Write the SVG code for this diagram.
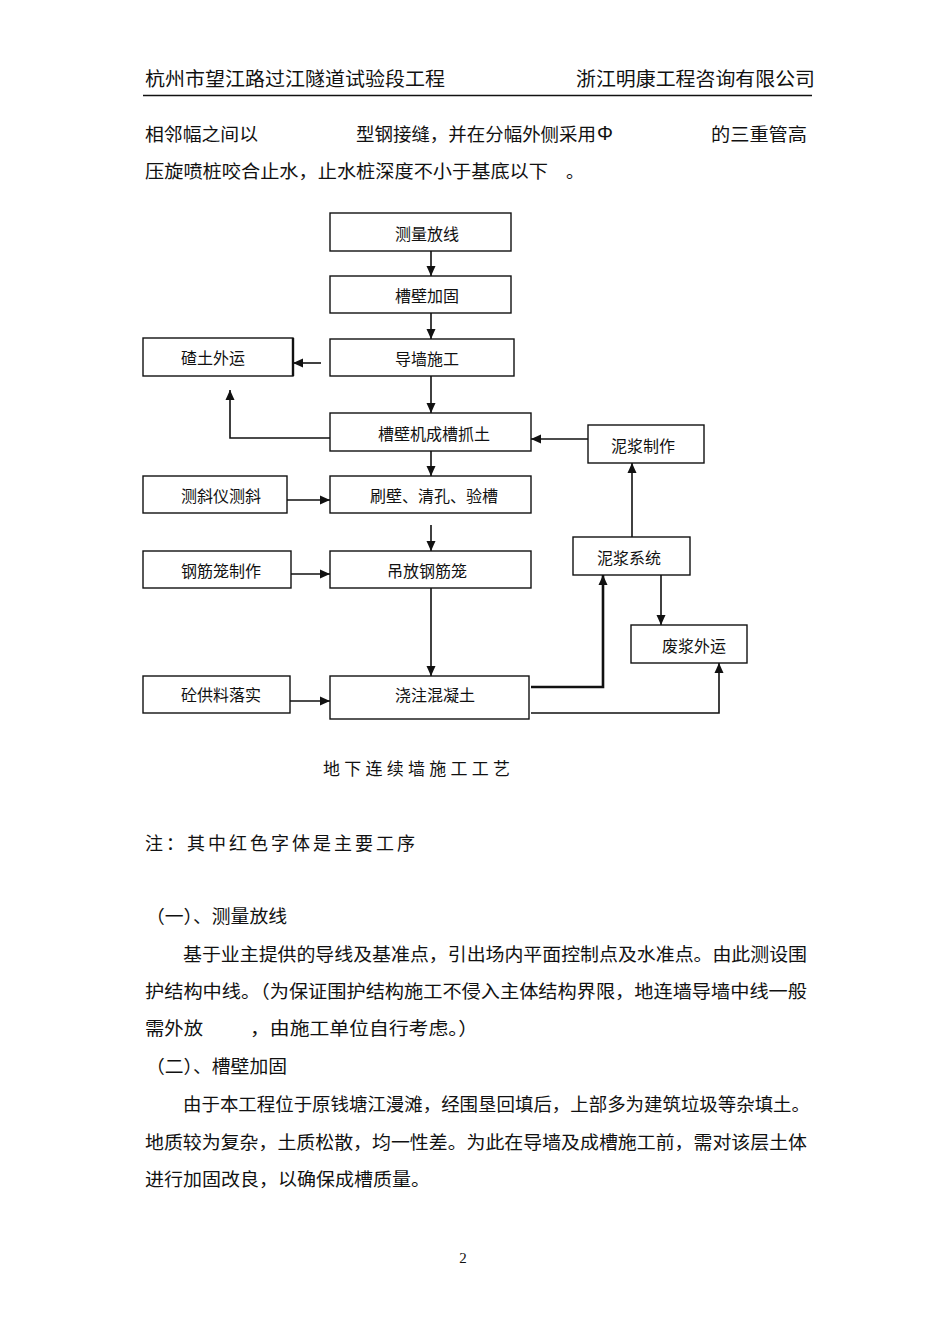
<svg xmlns="http://www.w3.org/2000/svg" width="950" height="1344" viewBox="0 0 950 1344">
<style>
text{font-family:"Noto Sans CJK SC","Noto Sans",sans-serif;fill:#111;dominant-baseline:central}
.hd{font-size:19px}
.bd{font-size:18px}
.nd{font-size:16px;text-anchor:middle}
.box{fill:#fff;stroke:#111;stroke-width:1.4}
.ln{fill:none;stroke:#111;stroke-width:1.6}
.thk{fill:none;stroke:#111;stroke-width:2.6}
</style>
<defs>
<marker id="ah" markerUnits="userSpaceOnUse" markerWidth="10" markerHeight="10" refX="10" refY="5" orient="auto">
<path d="M0,0.5 L10,5 L0,9.5 z" fill="#111"/>
</marker>
</defs>
<rect width="950" height="1344" fill="#fff"/>
<g id="header">
<text class="hd" x="145" y="77" textLength="300" lengthAdjust="spacingAndGlyphs">杭州市望江路过江隧道试验段工程</text>
<text class="hd" x="576" y="77" textLength="239" lengthAdjust="spacingAndGlyphs">浙江明康工程咨询有限公司</text>
<line x1="143" y1="95.5" x2="812" y2="95.5" stroke="#111" stroke-width="1.6"/>
</g>
<g id="para1">
<text class="bd" x="145" y="133" textLength="113" lengthAdjust="spacingAndGlyphs">相邻幅之间以</text>
<text class="bd" x="356" y="133" textLength="240" lengthAdjust="spacingAndGlyphs">型钢接缝，并在分幅外侧采用</text>
<text x="597" y="133" style="font-family:'Liberation Sans',sans-serif;font-size:20px">Φ</text>
<text class="bd" x="711" y="133" textLength="96" lengthAdjust="spacingAndGlyphs">的三重管高</text>
<text class="bd" x="145" y="170" textLength="403" lengthAdjust="spacingAndGlyphs">压旋喷桩咬合止水，止水桩深度不小于基底以下</text>
<text class="bd" x="566" y="170">。</text>
</g>
<g id="connectors">
<line class="ln" x1="431" y1="251" x2="431" y2="276" marker-end="url(#ah)"/>
<line class="ln" x1="431" y1="313" x2="431" y2="339" marker-end="url(#ah)"/>
<line class="ln" x1="321" y1="363" x2="293" y2="363" marker-end="url(#ah)"/>
<line class="ln" x1="431" y1="376" x2="431" y2="413" marker-end="url(#ah)"/>
<polyline class="ln" points="330,438 230,438 230,390" marker-end="url(#ah)"/>
<line class="ln" x1="588" y1="439" x2="531" y2="439" marker-end="url(#ah)"/>
<line class="ln" x1="431" y1="451" x2="431" y2="476" marker-end="url(#ah)"/>
<line class="ln" x1="287" y1="500" x2="330" y2="500" marker-end="url(#ah)"/>
<line class="ln" x1="431" y1="525" x2="431" y2="551" marker-end="url(#ah)"/>
<line class="ln" x1="291" y1="574" x2="330" y2="574" marker-end="url(#ah)"/>
<line class="ln" x1="431" y1="588" x2="431" y2="676" marker-end="url(#ah)"/>
<line class="ln" x1="290" y1="701" x2="330" y2="701" marker-end="url(#ah)"/>
<polyline class="thk" points="531,687 603,687 603,575" marker-end="url(#ah)"/>
<polyline class="ln" points="531,713 719,713 719,663" marker-end="url(#ah)"/>
<line class="ln" x1="632" y1="537" x2="632" y2="463" marker-end="url(#ah)"/>
<line class="ln" x1="661" y1="575" x2="661" y2="625" marker-end="url(#ah)"/>
</g>
<g id="n1"><rect class="box" x="330" y="213" width="181" height="38"/><text class="nd" x="427" y="233">测量放线</text></g>
<g id="n2"><rect class="box" x="330" y="276" width="181" height="37"/><text class="nd" x="427" y="295">槽壁加固</text></g>
<g id="n3"><rect class="box" x="330" y="339" width="184" height="37"/><text class="nd" x="427" y="358">导墙施工</text></g>
<g id="n4"><rect class="box" x="143" y="338" width="150" height="38"/><line x1="293" y1="338" x2="293" y2="376" stroke="#111" stroke-width="2.4"/><text class="nd" x="213" y="357">碴土外运</text></g>
<g id="n5"><rect class="box" x="330" y="413" width="201" height="38"/><text class="nd" x="434" y="433">槽壁机成槽抓土</text></g>
<g id="n6"><rect class="box" x="588" y="425" width="116" height="38"/><text class="nd" x="643" y="445">泥浆制作</text></g>
<g id="n7"><rect class="box" x="330" y="476" width="201" height="37"/><text class="nd" x="434" y="495">刷壁、清孔、验槽</text></g>
<g id="n8"><rect class="box" x="143" y="476" width="144" height="37"/><text class="nd" x="221" y="495">测斜仪测斜</text></g>
<g id="n9"><rect class="box" x="573" y="537" width="117" height="38"/><text class="nd" x="629" y="557">泥浆系统</text></g>
<g id="n10"><rect class="box" x="330" y="551" width="201" height="37"/><text class="nd" x="427" y="570">吊放钢筋笼</text></g>
<g id="n11"><rect class="box" x="143" y="551" width="148" height="37"/><text class="nd" x="221" y="570">钢筋笼制作</text></g>
<g id="n12"><rect class="box" x="631" y="625" width="116" height="38"/><text class="nd" x="694" y="645">废浆外运</text></g>
<g id="n13"><rect class="box" x="330" y="676" width="199" height="43"/><text class="nd" x="435" y="694">浇注混凝土</text></g>
<g id="n14"><rect class="box" x="143" y="676" width="147" height="37"/><text class="nd" x="221" y="694">砼供料落实</text></g>
<g id="caption">
<text x="323" y="767" style="font-size:17px" textLength="187" lengthAdjust="spacing">地下连续墙施工工艺</text>
</g>
<g id="body">
<text class="bd" x="145" y="842" textLength="270" lengthAdjust="spacing">注：其中红色字体是主要工序</text>
<text class="bd" x="146" y="915" textLength="141" lengthAdjust="spacingAndGlyphs">（一）、测量放线</text>
<text class="bd" x="183" y="953" textLength="624" lengthAdjust="spacingAndGlyphs">基于业主提供的导线及基准点，引出场内平面控制点及水准点。由此测设围</text>
<text class="bd" x="145" y="990" textLength="662" lengthAdjust="spacingAndGlyphs">护结构中线。（为保证围护结构施工不侵入主体结构界限，地连墙导墙中线一般</text>
<text class="bd" x="145" y="1027" textLength="58" lengthAdjust="spacingAndGlyphs">需外放</text>
<text class="bd" x="250" y="1027" textLength="228" lengthAdjust="spacingAndGlyphs">，由施工单位自行考虑。）</text>
<text class="bd" x="146" y="1065" textLength="141" lengthAdjust="spacingAndGlyphs">（二）、槽壁加固</text>
<text class="bd" x="183" y="1103" textLength="627" lengthAdjust="spacingAndGlyphs">由于本工程位于原钱塘江漫滩，经围垦回填后，上部多为建筑垃圾等杂填土。</text>
<text class="bd" x="145" y="1141" textLength="662" lengthAdjust="spacingAndGlyphs">地质较为复杂，土质松散，均一性差。为此在导墙及成槽施工前，需对该层土体</text>
<text class="bd" x="145" y="1178" textLength="285" lengthAdjust="spacingAndGlyphs">进行加固改良，以确保成槽质量。</text>
<text x="463" y="1258" style="font-family:'Liberation Serif',serif;font-size:15px;text-anchor:middle">2</text>
</g>
</svg>
